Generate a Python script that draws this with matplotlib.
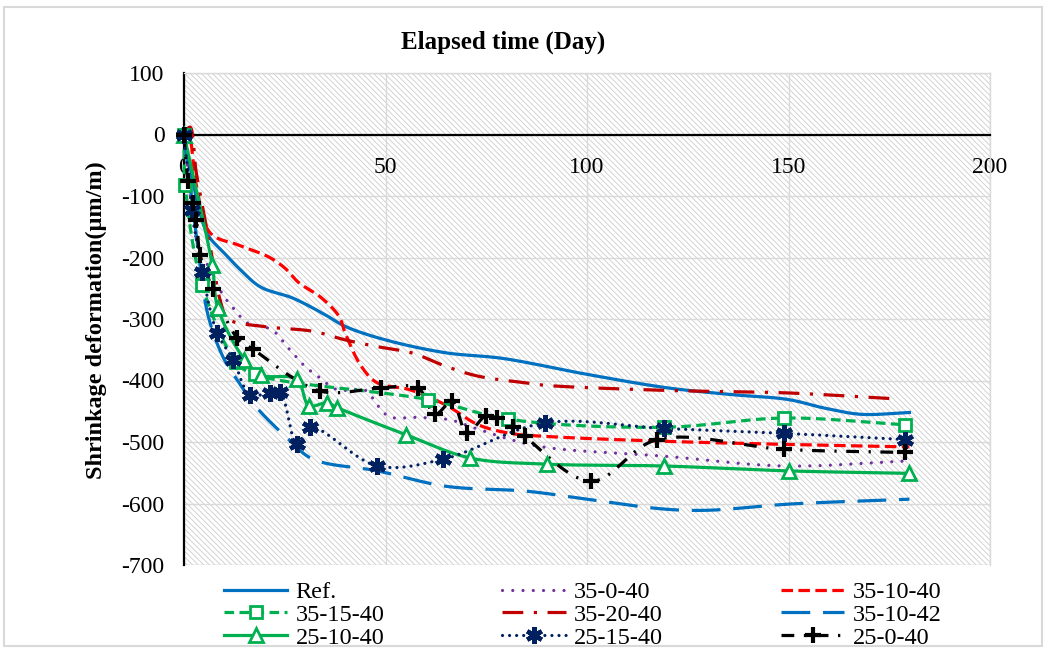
import numpy as np
import matplotlib
matplotlib.use("Agg")
import matplotlib.pyplot as plt
from matplotlib.lines import Line2D
from matplotlib.patches import Rectangle

plt.rcParams['font.family'] = ['Liberation Serif', 'DejaVu Serif']
plt.rcParams['hatch.linewidth'] = 0.6
plt.rcParams['axes.unicode_minus'] = False

# ---------------- data ----------------
ref_x = [0, 2, 4, 6, 10, 14, 19, 27, 35, 40, 50, 65, 79, 100, 120, 136, 150, 159, 168, 180]
ref_y = [0, -70, -128, -164, -193, -220, -248, -266, -293, -312, -334, -355, -364, -390, -412, -423, -431, -445, -455, -452]

s35_0_40_x = [0, 3.5, 5.5, 9.7, 12.6, 15.6, 20, 22, 26, 30, 33, 38, 45, 48, 51, 58, 66, 72, 81, 90, 119, 149, 179]
s35_0_40_y = [0, -183, -208, -261, -285, -306, -313, -318, -348, -377, -392, -415, -416, -440, -459, -460, -464, -477, -496, -509, -523, -539, -531]

s35_10_40_x = [0, 1, 3, 6.5, 13.6, 21, 25, 28.5, 34, 38.5, 40, 44, 48, 56, 65, 73, 81, 90, 120, 150, 180]
s35_10_40_y = [0, 5, -80, -160, -180, -199, -217, -241, -265, -296, -323, -377, -404, -415, -440, -472, -486, -491, -499, -504, -508]

s35_15_40_x = [0, 0.3, 4.5, 13, 17.5, 60.5, 80.5, 119, 149, 179]
s35_15_40_y = [0, -82, -245, -370, -390, -431, -463, -476, -461, -472]

s35_20_40_x = [0, 1.5, 3, 5, 7, 9, 11, 19.5, 32, 40, 48, 56.5, 65, 73, 85, 90, 119, 149, 177]
s35_20_40_y = [0, 12, -60, -130, -200, -270, -300, -312, -320, -334, -345, -355, -377, -393, -404, -408, -416, -420, -430]

s35_10_42_x = [0, 3, 6, 10, 13.3, 17.5, 26, 32, 48, 65, 85, 100, 119, 130, 150, 180]
s35_10_42_y = [0, -160, -295, -366, -400, -440, -496, -528, -547, -572, -580, -593, -609, -611, -601, -593]

s25_10_40_x = [0, 7, 8.4, 15, 19, 28, 31, 35.5, 38, 55, 71, 90, 119, 150, 180]
s25_10_40_y = [0, -212, -282, -366, -391, -398, -441, -436, -444, -488, -526, -536, -539, -547, -551]

s25_15_40_x = [0, 2, 4.5, 8.2, 12.2, 16.4, 21.3, 23.8, 28, 31.3, 48, 64.3, 89.5, 119, 149, 179]
s25_15_40_y = [0, -123, -223, -322, -366, -423, -420, -418, -504, -476, -539, -528, -469, -478, -486, -496]

s25_0_40_x = [0, 1, 2.3, 3.1, 4, 7.2, 13.2, 17.1, 33.7, 49, 58, 62.3, 66.5, 70.2, 75, 77.7, 81.6, 84.6, 101, 117.4, 149, 179]
s25_0_40_y = [0, -75, -112, -139, -196, -251, -331, -349, -417, -412, -412, -455, -434, -485, -457, -461, -475, -491, -564, -496, -512, -517]

labels = ['Ref.', '35-0-40', '35-10-40', '35-15-40', '35-20-40', '35-10-42',
          '25-10-40', '25-15-40', '25-0-40']
x_ticks = [0, 50, 100, 150, 200]
y_ticks = [100, 0, -100, -200, -300, -400, -500, -600, -700]


def smooth(xs, ys, sx=4.03, sy=0.617, n=20):
    P = np.column_stack([np.asarray(xs, float) * sx, np.asarray(ys, float) * sy])
    if len(P) < 3:
        return np.asarray(xs), np.asarray(ys)
    P = np.vstack([2 * P[0] - P[1], P, 2 * P[-1] - P[-2]])
    out = [P[1]]

    def tj(ti, pi, pj):
        d = np.hypot(*(pj - pi))
        return ti + max(d, 1e-6) ** 0.5

    for i in range(1, len(P) - 2):
        p0, p1, p2, p3 = P[i - 1], P[i], P[i + 1], P[i + 2]
        t0 = 0.0
        t1 = tj(t0, p0, p1)
        t2 = tj(t1, p1, p2)
        t3 = tj(t2, p2, p3)
        t = np.linspace(t1, t2, n)[1:][:, None]
        A1 = (t1 - t) / (t1 - t0) * p0 + (t - t0) / (t1 - t0) * p1
        A2 = (t2 - t) / (t2 - t1) * p1 + (t - t1) / (t2 - t1) * p2
        A3 = (t3 - t) / (t3 - t2) * p2 + (t - t2) / (t3 - t2) * p3
        B1 = (t2 - t) / (t2 - t0) * A1 + (t - t0) / (t2 - t0) * A2
        B2 = (t3 - t) / (t3 - t1) * A2 + (t - t1) / (t3 - t1) * A3
        C = (t2 - t) / (t2 - t1) * B1 + (t - t1) / (t2 - t1) * B2
        out.extend(C)
    out = np.array(out)
    return out[:, 0] / sx, out[:, 1] / sy


BLUE = '#0070C0'
PURPLE = '#7030A0'
RED = '#FF0000'
DRED = '#C00000'
GREEN = '#00B050'
NAVY = '#002060'
LW = 2.3
STAR = (6, 2, 0)

series = [
    (ref_x, ref_y, dict(color=BLUE, ls='-'), None),
    (s35_0_40_x, s35_0_40_y, dict(color=PURPLE, ls=(0, (0.01, 3.2)), dash_capstyle='round'), None),
    (s35_10_40_x, s35_10_40_y, dict(color=RED, ls=(0, (3.6, 1.7))), None),
    (s35_15_40_x, s35_15_40_y, dict(color=GREEN, ls=(0, (3.0, 1.7))),
     dict(marker='s', ms=9, mfc='white', mec=GREEN, mew=2)),
    (s35_20_40_x, s35_20_40_y, dict(color=DRED, ls=(0, (6.5, 3.3, 1.0, 3.3))), None),
    (s35_10_42_x, s35_10_42_y, dict(color=BLUE, ls=(0, (9, 4))), None),
    (s25_10_40_x, s25_10_40_y, dict(color=GREEN, ls='-'),
     dict(marker='^', ms=10, mfc='white', mec=GREEN, mew=2)),
    (s25_15_40_x, s25_15_40_y, dict(color=NAVY, ls=(0, (0.01, 2.2)), dash_capstyle='round'),
     dict(marker=STAR, ms=12, mfc=NAVY, mec=NAVY, mew=3.2)),
    (s25_0_40_x, s25_0_40_y, dict(color='black', ls=(0, (4, 3, 0.7, 3))),
     dict(marker='+', ms=12, mfc='black', mec='black', mew=3)),
]

fig = plt.figure(figsize=(10.47, 6.49), dpi=100)
ax = fig.add_axes([184 / 1047, 1 - 565 / 649, (990 - 184) / 1047, (565 - 73) / 649])
ax.set_xlim(0, 200)
ax.set_ylim(-700, 100)
ax.set_facecolor('white')

# hatched background
ax.add_patch(Rectangle((0, 0), 1, 1, transform=ax.transAxes, facecolor='none',
                       edgecolor='#cccccc', hatch='\\' * 6, lw=0, zorder=0))

ax.set_xticks(x_ticks)
ax.set_yticks(y_ticks)
ax.grid(True, color='#d9d9d9', lw=1.0, zorder=0.5)
ax.set_axisbelow(True)

for sp in ['top', 'right']:
    ax.spines[sp].set_color('#d9d9d9')
    ax.spines[sp].set_linewidth(1.0)
ax.spines['bottom'].set_position(('data', 0))
ax.spines['bottom'].set_color('black')
ax.spines['bottom'].set_linewidth(1.6)
ax.spines['left'].set_color('black')
ax.spines['left'].set_linewidth(1.6)
ax.axhline(-700, color='#d9d9d9', lw=1.0, zorder=0.6)

ax.tick_params(axis='both', length=0, labelsize=17)
ax.tick_params(axis='x', pad=16)
ax.tick_params(axis='y', pad=14)

handles = []
for (xs, ys, lstyle, mstyle), lab in zip(series, labels):
    sx_, sy_ = smooth(xs, ys)
    kw = dict(lstyle)
    ls = kw.pop('ls')
    ax.plot(sx_, sy_, lw=LW, linestyle=ls, zorder=3, clip_on=False, **kw)
    hkw = dict(color=lstyle['color'], lw=LW, linestyle=ls)
    if 'dash_capstyle' in lstyle:
        hkw['dash_capstyle'] = lstyle['dash_capstyle']
    if mstyle is not None:
        ax.plot(xs, ys, linestyle='none', zorder=4, clip_on=False, **mstyle)
        hkw.update(mstyle)
        hkw['markevery'] = [1]
    h = Line2D([0, 0.5, 1], [0, 0, 0], **hkw)
    handles.append(h)

# legend: row-wise order in 3 columns
order = [0, 3, 6, 1, 4, 7, 2, 5, 8]
leg = fig.legend([handles[i] for i in order], [labels[i] for i in order],
                 ncol=3, loc='upper left', bbox_to_anchor=(224 / 1047, 1 - 581 / 649),
                 frameon=False, fontsize=17.5, handlelength=2.6, handletextpad=0.35,
                 columnspacing=4.85, labelspacing=0.03, borderpad=0, borderaxespad=0)

fig.text(503 / 1047, 1 - 42 / 649, 'Elapsed time (Day)', ha='center', va='center',
         fontsize=18, fontweight='bold')
fig.text(96 / 1047, 1 - 320 / 649, 'Shrinkage deformation(μm/m)', ha='center', va='center',
         rotation=90, fontsize=17.5, fontweight='bold')

fig.patches.append(Rectangle((4 / 1047, 3 / 649), 1038 / 1047, 639 / 649,
                             transform=fig.transFigure, fill=False,
                             edgecolor='#d9d9d9', lw=1.5))

fig.savefig('out.png', dpi=100)
